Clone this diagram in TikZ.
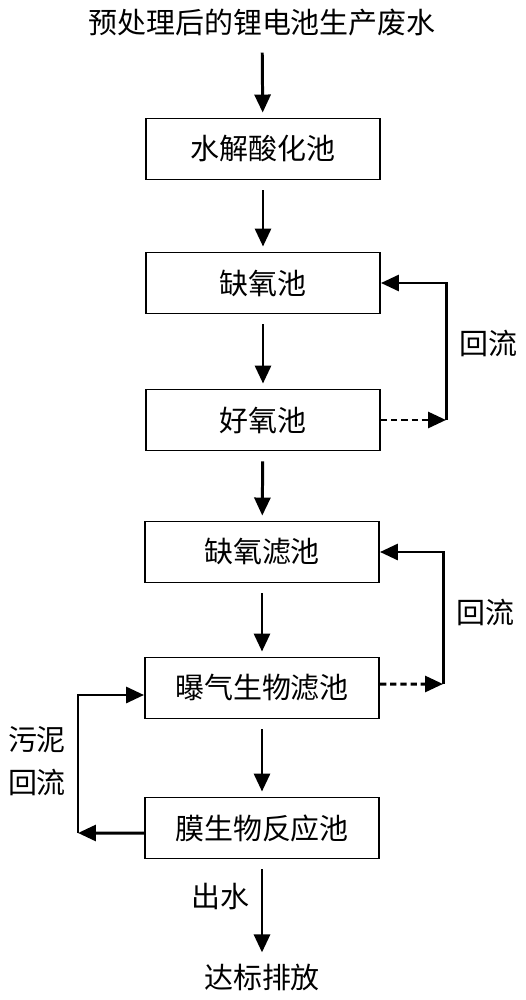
\documentclass[tikz,border=0pt]{standalone}
\usepackage{fontspec}
\setmainfont{Noto Sans CJK SC}
\usetikzlibrary{arrows.meta}

\begin{document}
\begin{tikzpicture}[x=0.02cm,y=-0.02cm,
  font=\fontsize{16.5}{20}\selectfont,
  pool/.style={draw,line width=1.1pt,minimum width=4.68cm,minimum height=1.22cm},
  flow/.style={line width=1.7pt,-{Triangle[length=0.36cm,width=0.32cm]},
               shorten <=0.2cm,shorten >=0.1cm},
  back/.style={line width=1.7pt,-{Triangle[length=0.36cm,width=0.32cm]}},
  backdash/.style={back,dash pattern=on 3.6pt off 2.2pt}]
\useasboundingbox (0,0) rectangle (525,1000);

\node (in) at (262,23) {预处理后的锂电池生产废水};
\node[pool] (b1) at (263,149) {水解酸化池};
\node[pool] (b2) at (263,283) {缺氧池};
\node[pool] (b3) at (263,420) {好氧池};
\node[pool] (b4) at (262,552) {缺氧滤池};
\node[pool] (b5) at (262,688) {曝气生物滤池};
\node[pool] (b6) at (262,828) {膜生物反应池};
\node (out) at (262,977) {达标排放};

\draw[flow] (in) -- (b1);
\draw[flow] (b1) -- (b2);
\draw[flow] (b2) -- (b3);
\draw[flow] (b3) -- (b4);
\draw[flow] (b4) -- (b5);
\draw[flow] (b5) -- (b6);
\draw[flow] (b6) -- (out);
\node (water) at (220,897) {出水};

% return loops on the right
\coordinate (r1) at (446,420);
\draw[backdash] (b3.east) -- (r1);
\draw[back] (r1) |- (b2.east);
\node (ret1) at (488,343) {回流};

\coordinate (r2) at (443,684);
\draw[backdash] ([yshift=0.08cm]b5.east) -- (r2);
\draw[back] (r2) |- (b4.east);
\node (ret2) at (485,612) {回流};

% sludge return on the left
\coordinate (s1) at (78,833);
\draw[back] ([yshift=-0.1cm]b6.west) -- (s1);
\draw[back] (s1) |- ([yshift=-0.14cm]b5.west);
\node (sl1) at (37,740) {污泥};
\node (sl2) at (37,782) {回流};
\end{tikzpicture}
\end{document}
